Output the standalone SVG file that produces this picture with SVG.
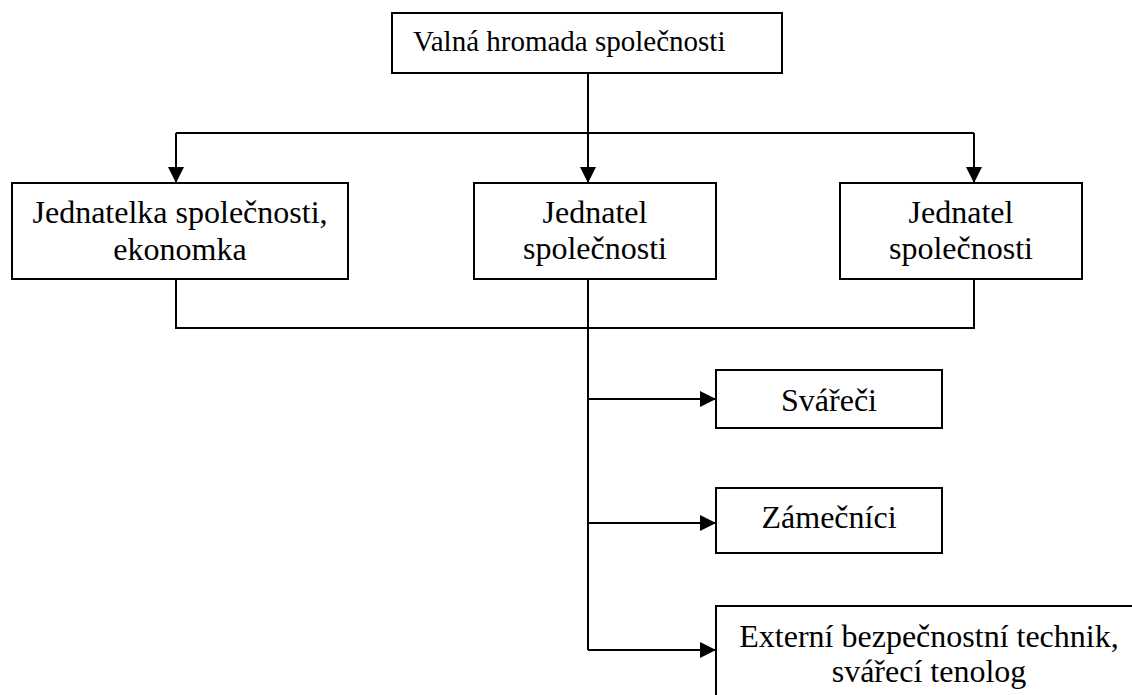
<svg xmlns="http://www.w3.org/2000/svg" width="1132" height="695" viewBox="0 0 1132 695">
<defs>
<style>
.box{fill:#fff;stroke:#000;stroke-width:2}
.t{font-family:"Liberation Serif","Times New Roman",serif;font-size:32px;fill:#000;text-anchor:middle}
.c{fill:none;stroke:#000;stroke-width:2}
</style>
<marker id="ah" markerUnits="userSpaceOnUse" markerWidth="16" markerHeight="16" refX="16" refY="8" orient="auto">
<path d="M0,0 L16,8 L0,16 z" fill="#000"/>
</marker>
</defs>
<rect width="1132" height="695" fill="#fff"/>
<g id="connectors">
<path class="c" d="M588,73 V183" marker-end="url(#ah)"/>
<path class="c" d="M176,133 H974"/>
<path class="c" d="M176,133 V183" marker-end="url(#ah)"/>
<path class="c" d="M974,133 V183" marker-end="url(#ah)"/>
<path class="c" d="M176,279 V328 H974 V279"/>
<path class="c" d="M588,279 V650"/>
<path class="c" d="M588,399 H716" marker-end="url(#ah)"/>
<path class="c" d="M588,523 H716" marker-end="url(#ah)"/>
<path class="c" d="M588,650 H716" marker-end="url(#ah)"/>
</g>
<g id="valna">
<rect class="box" x="392" y="13" width="390" height="60"/>
<text class="t" x="413" y="51" style="text-anchor:start;font-size:29px">Valná hromada společnosti</text>
</g>
<g id="jednatelka">
<rect class="box" x="12" y="183" width="336" height="96"/>
<text class="t" x="180" y="223">Jednatelka společnosti,</text>
<text class="t" x="180" y="260">ekonomka</text>
</g>
<g id="jednatel1">
<rect class="box" x="474" y="183" width="242" height="96"/>
<text class="t" x="595" y="223">Jednatel</text>
<text class="t" x="595" y="259">společnosti</text>
</g>
<g id="jednatel2">
<rect class="box" x="840" y="183" width="242" height="96"/>
<text class="t" x="961" y="223">Jednatel</text>
<text class="t" x="961" y="259">společnosti</text>
</g>
<g id="svareci">
<rect class="box" x="716" y="370" width="226" height="58"/>
<text class="t" x="829" y="411">Svářeči</text>
</g>
<g id="zamecnici">
<rect class="box" x="716" y="488" width="226" height="65"/>
<text class="t" x="829" y="528">Zámečníci</text>
</g>
<g id="externi">
<rect class="box" x="716" y="606" width="430" height="110"/>
<text class="t" x="929" y="647">Externí bezpečnostní technik,</text>
<text class="t" x="929" y="682">svářecí tenolog</text>
</g>
</svg>
